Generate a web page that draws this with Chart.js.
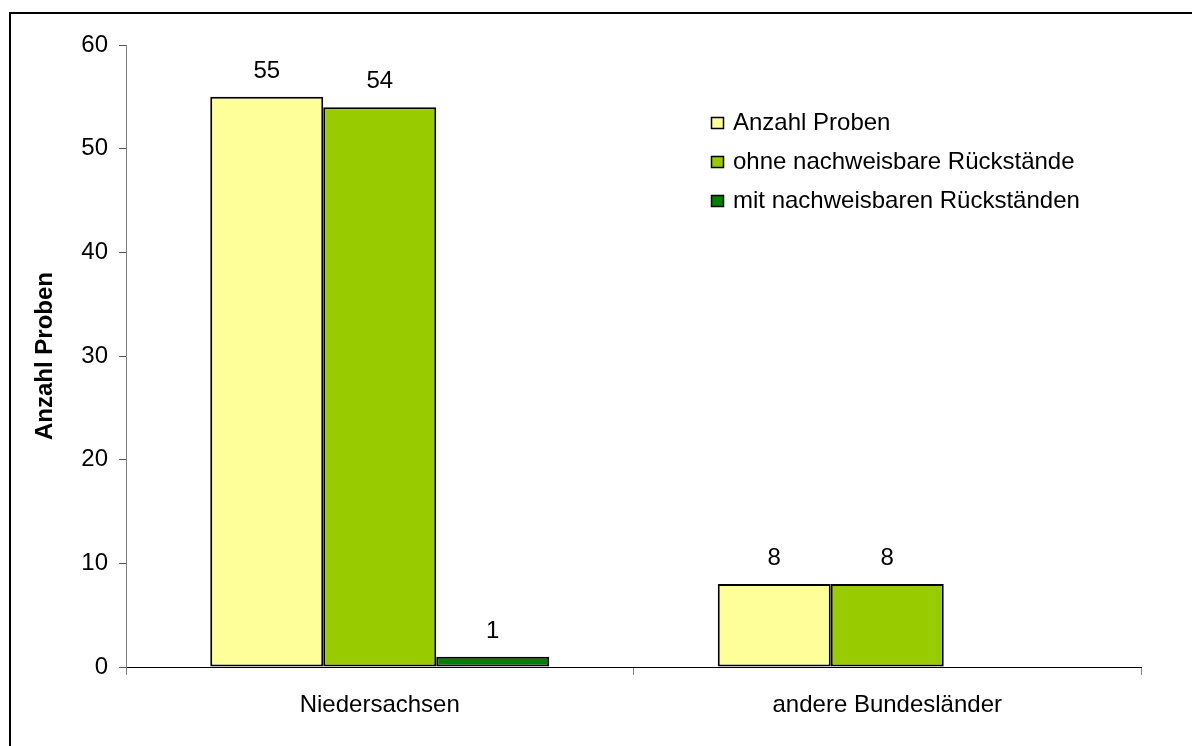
<!DOCTYPE html>
<html>
<head>
<meta charset="utf-8">
<script src="https://cdn.jsdelivr.net/npm/chart.js@4.4.0/dist/chart.umd.min.js"></script>
<style>
  html, body { margin: 0; padding: 0; background: #fff; overflow: hidden; }
  #wrap { position: relative; width: 1192px; height: 746px; }
  #frame {
    position: absolute; left: 9px; top: 12px; width: 1400px; height: 900px;
    border-left: 2px solid #000; border-top: 2px solid #000; pointer-events: none;
  }
  canvas { display: block; }
</style>
</head>
<body>
<div id="wrap">
  <canvas id="chart" width="1192" height="746"></canvas>
  <div id="frame"></div>
</div>
<script>
// Chart data
const categories = ['Niedersachsen', 'andere Bundesländer'];
const seriesNames = ['Anzahl Proben', 'ohne nachweisbare Rückstände', 'mit nachweisbaren Rückständen'];
const anzahlProben = [55, 8];
const ohneRueckstaende = [54, 8];
const mitRueckstaenden = [1, null];
const yMax = 60;
const yStep = 10;

const FONT = 'Liberation Sans, Arial, sans-serif';
const FS = 24;
const FILLS = ['#FFFF99', '#99CC00', '#008000'];

// values printed above each bar
const valueLabels = {
  id: 'valueLabels',
  afterDatasetsDraw(chart) {
    const ctx = chart.ctx;
    ctx.save();
    ctx.font = FS + 'px ' + FONT;
    ctx.fillStyle = '#000';
    ctx.textAlign = 'center';
    ctx.textBaseline = 'alphabetic';
    chart.data.datasets.forEach((ds, i) => {
      const meta = chart.getDatasetMeta(i);
      meta.data.forEach((bar, j) => {
        const v = ds.data[j];
        if (v === null || v === undefined) return;
        ctx.fillText(String(v), bar.x, bar.y - 19);
      });
    });
    ctx.restore();
  },
};

// legend drawn inside the plot, top right
const innerLegend = {
  id: 'innerLegend',
  afterDraw(chart) {
    const ctx = chart.ctx;
    const x0 = chart.chartArea.left + 585;
    const y0 = chart.chartArea.top + 78;
    const rowH = 39;
    ctx.save();
    ctx.font = FS + 'px ' + FONT;
    ctx.textBaseline = 'middle';
    ctx.textAlign = 'left';
    chart.data.datasets.forEach((ds, i) => {
      const y = y0 + i * rowH;
      ctx.fillStyle = ds.backgroundColor;
      ctx.fillRect(x0, y - 6, 13, 12);
      ctx.strokeStyle = '#000';
      ctx.lineWidth = 1.5;
      ctx.strokeRect(x0 + 0.5, y - 5.5, 12, 11);
      ctx.fillStyle = '#000';
      ctx.fillText(ds.label, x0 + 22, y);
    });
    ctx.restore();
  },
};

new Chart(document.getElementById('chart'), {
  type: 'bar',
  data: {
    labels: categories,
    datasets: [
      { label: seriesNames[0], data: anzahlProben, backgroundColor: FILLS[0] },
      { label: seriesNames[1], data: ohneRueckstaende, backgroundColor: FILLS[1] },
      { label: seriesNames[2], data: mitRueckstaenden, backgroundColor: FILLS[2] },
    ].map((d) => Object.assign(d, {
      borderColor: '#000',
      borderWidth: 2,
      borderSkipped: false,
      categoryPercentage: 0.668,
      barPercentage: 1,
    })),
  },
  options: {
    responsive: false,
    animation: false,
    devicePixelRatio: 1,
    layout: { padding: { top: 45, right: 51, left: 0, bottom: 0 } },
    plugins: {
      legend: { display: false },
      tooltip: { enabled: false },
    },
    scales: {
      x: {
        afterFit: (scale) => { scale.height = 79; },
        border: { color: '#000', width: 1 },
        grid: {
          offset: true,
          drawOnChartArea: false,
          tickLength: 8,
          color: '#808080',
        },
        ticks: {
          color: '#000',
          padding: 16,
          font: { family: FONT, size: FS },
        },
      },
      y: {
        min: 0,
        max: yMax,
        afterFit: (scale) => { scale.width = 126; },
        border: { color: '#808080', width: 1 },
        grid: {
          drawOnChartArea: false,
          tickLength: 7,
          color: '#555',
        },
        ticks: {
          stepSize: yStep,
          color: '#000',
          padding: 11,
          font: { family: FONT, size: FS },
        },
        title: {
          display: true,
          text: 'Anzahl Proben',
          color: '#000',
          padding: { top: 31, bottom: 0 },
          font: { family: FONT, size: FS, weight: 'bold' },
        },
      },
    },
  },
  plugins: [valueLabels, innerLegend],
});
</script>
</body>
</html>
